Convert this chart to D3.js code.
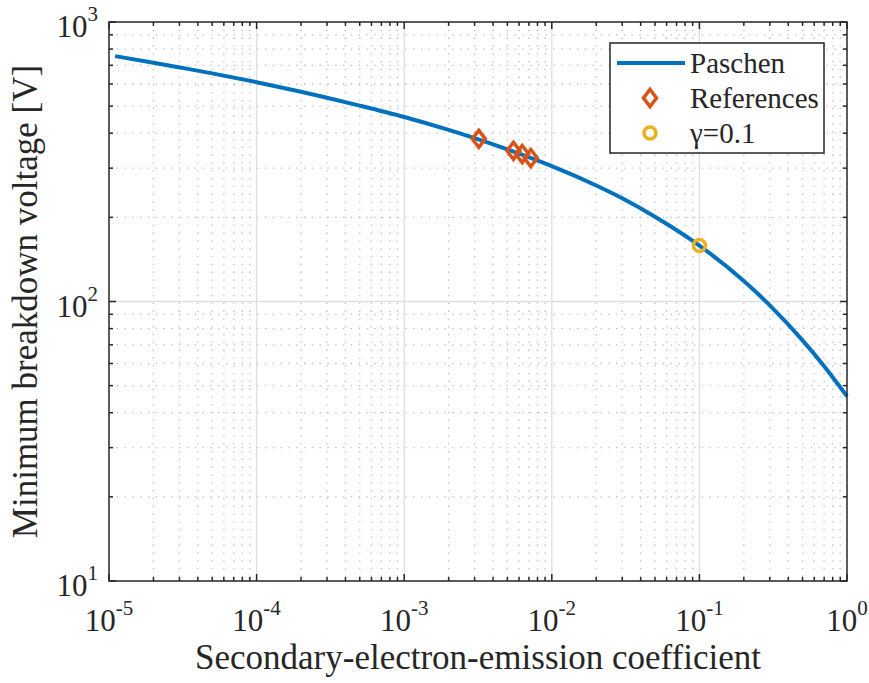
<!DOCTYPE html>
<html>
<head>
<meta charset="utf-8">
<script src="https://cdn.jsdelivr.net/npm/d3@7"></script>
<style>
  html, body { margin: 0; padding: 0; background: #fff; }
  svg { display: block; }
  text { font-family: "Liberation Serif", "Times New Roman", serif; fill: #262626; }
</style>
</head>
<body>
<svg id="chart" width="869" height="683"></svg>
<script>
// Minimum breakdown voltage versus secondary-electron-emission coefficient
const gammaValues = [1.1e-5, 2e-5, 3e-5, 5e-5, 1e-4, 2e-4, 3e-4, 5e-4, 1e-3, 2e-3, 3e-3, 5e-3,
                     1e-2, 2e-2, 3e-2, 5e-2, 0.1, 0.2, 0.3, 0.5, 0.7, 1];
const paschenVoltage = [755, 715, 688, 655, 609, 563, 536, 502, 457, 411, 384, 350,
                        305, 260, 234, 201, 158.5, 118.4, 96.9, 72.6, 58.7, 45.8];

const refGamma = [3.2e-3, 5.5e-3, 6.3e-3, 7.2e-3];
const refVoltage = [382, 346, 337, 326];

const markGamma = [0.1];
const markVoltage = [158.5];

const xTickExponents = [-5, -4, -3, -2, -1, 0];
const yTickExponents = [1, 2, 3];
const legendLabels = ["Paschen", "References", "\u03b3=0.1"];

const colors = { line: "#0072BD", ref: "#D95319", mark: "#EDB120", axis: "#262626" };

const svg = d3.select("#chart");
const plot = { left: 109, right: 847, top: 22, bottom: 581 };

const x = d3.scaleLog().domain([1e-5, 1]).range([plot.left, plot.right]);
const y = d3.scaleLog().domain([10, 1000]).range([plot.bottom, plot.top]);

// minor and major values per decade
const minorX = [], minorY = [];
for (let e = -5; e < 0; e++) for (let m = 2; m <= 9; m++) minorX.push(m * Math.pow(10, e));
for (let e = 1; e < 3; e++) for (let m = 2; m <= 9; m++) minorY.push(m * Math.pow(10, e));
const majorX = xTickExponents.map(e => Math.pow(10, e));
const majorY = yTickExponents.map(e => Math.pow(10, e));

const grid = svg.append("g");
// minor grid (dotted)
grid.selectAll(".mgx").data(minorX).enter().append("line")
  .attr("x1", d => x(d)).attr("x2", d => x(d))
  .attr("y1", plot.top).attr("y2", plot.bottom)
  .attr("stroke", "#bdbdbd").attr("stroke-width", 1.3).attr("stroke-dasharray", "1.3,6.5");
grid.selectAll(".mgy").data(minorY).enter().append("line")
  .attr("y1", d => y(d)).attr("y2", d => y(d))
  .attr("x1", plot.left).attr("x2", plot.right)
  .attr("stroke", "#bdbdbd").attr("stroke-width", 1.3).attr("stroke-dasharray", "1.3,6.5");
// major grid (solid)
grid.selectAll(".Mgx").data(majorX.slice(1, -1)).enter().append("line")
  .attr("x1", d => x(d)).attr("x2", d => x(d))
  .attr("y1", plot.top).attr("y2", plot.bottom)
  .attr("stroke", "#dedede").attr("stroke-width", 1.3);
grid.selectAll(".Mgy").data(majorY.slice(1, -1)).enter().append("line")
  .attr("y1", d => y(d)).attr("y2", d => y(d))
  .attr("x1", plot.left).attr("x2", plot.right)
  .attr("stroke", "#dedede").attr("stroke-width", 1.3);

// Paschen curve
const pts = gammaValues.map((g, i) => [g, paschenVoltage[i]]);
svg.append("path")
  .datum(pts)
  .attr("fill", "none")
  .attr("stroke", colors.line)
  .attr("stroke-width", 4)
  .attr("d", d3.line().x(d => x(d[0])).y(d => y(d[1])).curve(d3.curveMonotoneX));

// diamond outline centred on (cx, cy)
const dW = 6.5, dH = 8.5;
function diamond(cx, cy) {
  return `M${cx},${cy - dH}L${cx + dW},${cy}L${cx},${cy + dH}L${cx - dW},${cy}Z`;
}

// reference diamonds
svg.selectAll(".ref").data(refGamma.map((g, i) => [g, refVoltage[i]])).enter().append("path")
  .attr("d", d => diamond(x(d[0]), y(d[1])))
  .attr("fill", "none").attr("stroke", colors.ref).attr("stroke-width", 3.5)
  .attr("stroke-linejoin", "miter");

// gamma = 0.1 marker
svg.selectAll(".mk").data(markGamma.map((g, i) => [g, markVoltage[i]])).enter().append("circle")
  .attr("cx", d => x(d[0])).attr("cy", d => y(d[1])).attr("r", 6)
  .attr("fill", "none").attr("stroke", colors.mark).attr("stroke-width", 3.5);

// axes box and tick marks
const axisG = svg.append("g").attr("stroke", colors.axis).attr("stroke-width", 1.5);
axisG.append("rect")
  .attr("x", plot.left).attr("y", plot.top)
  .attr("width", plot.right - plot.left).attr("height", plot.bottom - plot.top)
  .attr("fill", "none");

function xTicks(vals, len) {
  vals.forEach(v => {
    const px = x(v);
    axisG.append("line").attr("x1", px).attr("x2", px).attr("y1", plot.bottom).attr("y2", plot.bottom - len);
    axisG.append("line").attr("x1", px).attr("x2", px).attr("y1", plot.top).attr("y2", plot.top + len);
  });
}
function yTicks(vals, len) {
  vals.forEach(v => {
    const py = y(v);
    axisG.append("line").attr("y1", py).attr("y2", py).attr("x1", plot.left).attr("x2", plot.left + len);
    axisG.append("line").attr("y1", py).attr("y2", py).attr("x1", plot.right).attr("x2", plot.right - len);
  });
}
xTicks(minorX, 4); xTicks(majorX, 7);
yTicks(minorY, 4); yTicks(majorY, 7);

// tick labels as powers of ten
svg.selectAll(".xl").data(xTickExponents).enter().append("text")
  .attr("x", d => x(Math.pow(10, d))).attr("y", 631)
  .attr("text-anchor", "middle")
  .each(function (d) {
    const t = d3.select(this);
    t.append("tspan").attr("font-size", 31).text("10");
    t.append("tspan").attr("font-size", 21).attr("dy", -16).text(String(d));
  });

svg.selectAll(".yl").data(yTickExponents).enter().append("text")
  .attr("x", 98).attr("y", d => y(Math.pow(10, d)) + 15)
  .attr("text-anchor", "end")
  .each(function (d) {
    const t = d3.select(this);
    t.append("tspan").attr("font-size", 31).text("10");
    t.append("tspan").attr("font-size", 21).attr("dy", -16).text(String(d));
  });

// axis titles
svg.append("text")
  .attr("x", (plot.left + plot.right) / 2).attr("y", 669)
  .attr("text-anchor", "middle").attr("font-size", 35)
  .text("Secondary-electron-emission coefficient");
svg.append("text")
  .attr("transform", `translate(37,${(plot.top + plot.bottom) / 2}) rotate(-90)`)
  .attr("text-anchor", "middle").attr("font-size", 35)
  .text("Minimum breakdown voltage [V]");

// legend
const lg = svg.append("g");
lg.append("rect").attr("x", 610).attr("y", 43).attr("width", 214).attr("height", 110)
  .attr("fill", "#fff").attr("stroke", colors.axis).attr("stroke-width", 1.5);
const rowY = [63, 98, 133];
lg.append("line").attr("x1", 617).attr("x2", 685).attr("y1", rowY[0]).attr("y2", rowY[0])
  .attr("stroke", colors.line).attr("stroke-width", 4);
lg.append("path")
  .attr("d", diamond(650, rowY[1]))
  .attr("fill", "none").attr("stroke", colors.ref).attr("stroke-width", 3.5);
lg.append("circle").attr("cx", 650).attr("cy", rowY[2]).attr("r", 6)
  .attr("fill", "none").attr("stroke", colors.mark).attr("stroke-width", 3.5);
lg.selectAll(".lt").data(legendLabels).enter().append("text")
  .attr("x", 690).attr("y", (d, i) => rowY[i] + 10)
  .attr("font-size", 29)
  .text(d => d);
</script>
</body>
</html>
